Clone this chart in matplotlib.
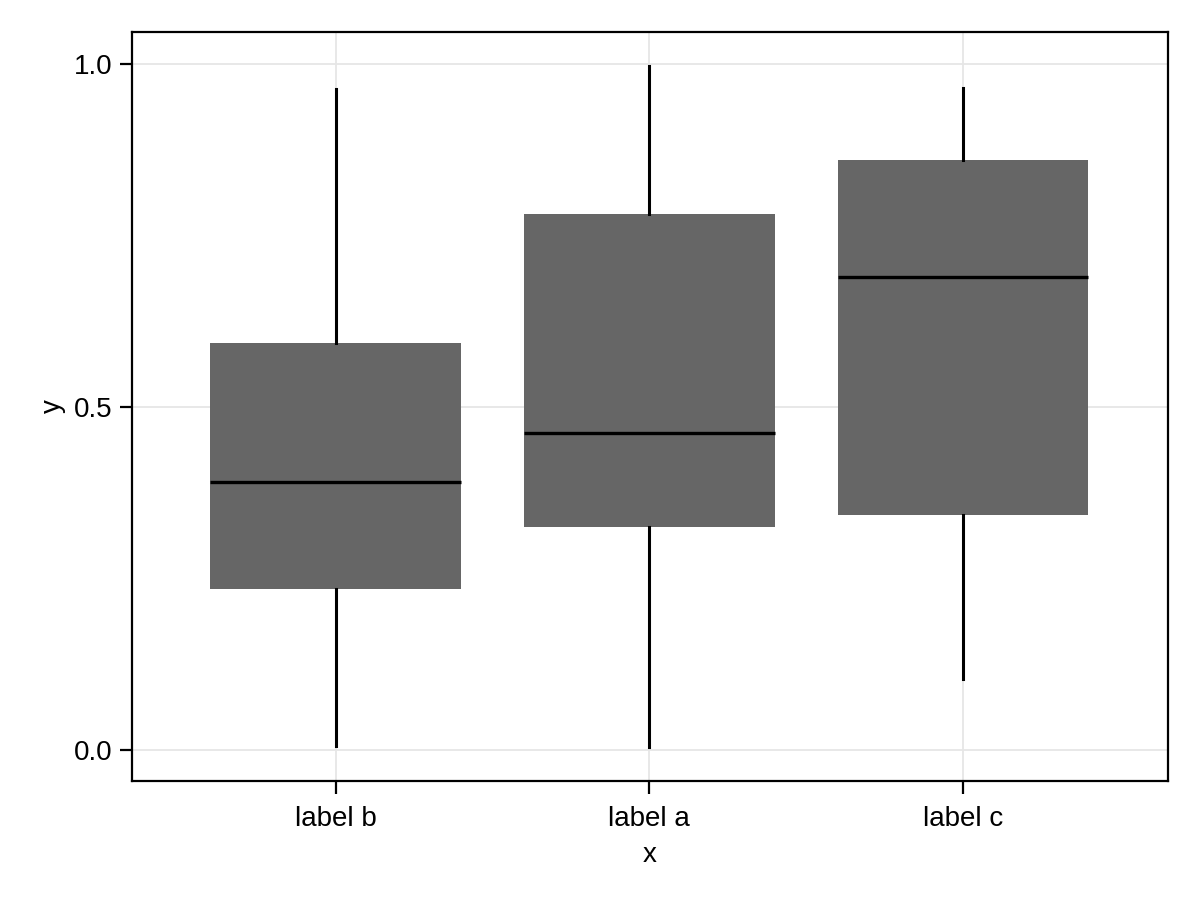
import matplotlib
matplotlib.use("Agg")
import matplotlib.pyplot as plt

categories = ["label b", "label a", "label c"]
whislo = [0.006, 0.004, 0.104]
q1 = [0.235, 0.325, 0.343]
med = [0.391, 0.462, 0.690]
q3 = [0.593, 0.781, 0.860]
whishi = [0.964, 0.997, 0.965]
yticks = [0.0, 0.5, 1.0]

plt.rcParams['font.family'] = ['Liberation Sans', 'DejaVu Sans']
plt.rcParams['font.size'] = 20

fig = plt.figure(figsize=(12, 9), dpi=100)
ax = fig.add_axes([132/1200, 1-781/900, (1168-132)/1200, (781-32)/900])

stats = []
for i, c in enumerate(categories):
    stats.append(dict(label=c, whislo=whislo[i], q1=q1[i], med=med[i],
                      q3=q3[i], whishi=whishi[i], fliers=[]))

ax.bxp(stats, positions=[1, 2, 3], widths=0.8, patch_artist=True,
       showcaps=False, showfliers=False,
       boxprops=dict(facecolor='#666666', edgecolor='none', linewidth=0),
       whiskerprops=dict(color='black', linewidth=2.2),
       medianprops=dict(color='black', linewidth=2.4, solid_capstyle='butt'),
       zorder=3)

ax.set_xlim(0.35, 3.654)
ax.set_ylim(-0.0452, 1.0466)
ax.set_yticks(yticks)
ax.set_yticklabels([f"{v:.1f}" for v in yticks])
ax.set_xticks([1, 2, 3])
ax.set_xticklabels(categories)
ax.grid(True, color='#e6e6e6', linewidth=1.3, zorder=0)
ax.set_axisbelow(True)
for s in ax.spines.values():
    s.set_linewidth(1.6)
ax.tick_params(length=9, width=1.6)
ax.tick_params(axis='x', pad=9)
ax.tick_params(axis='y', pad=5)
ax.set_xlabel("x", labelpad=7)
ax.set_ylabel("y", labelpad=6)

fig.savefig("out.png", dpi=100)
